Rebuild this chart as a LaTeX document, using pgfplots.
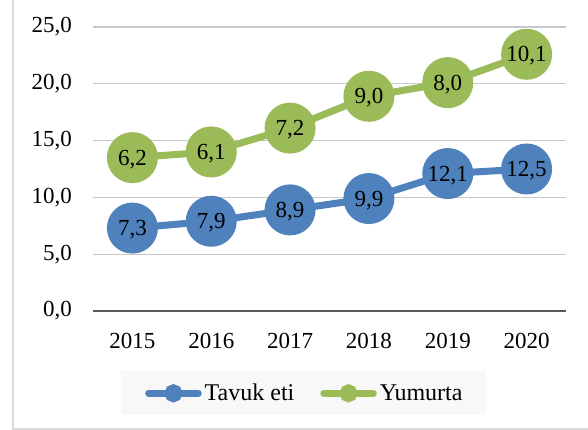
\documentclass[border=0pt]{standalone}
\usepackage{pgfplots}
\pgfplotsset{compat=1.18}
\usepackage{fontspec}
\setmainfont{Liberation Serif}
\definecolor{tblue}{HTML}{4F81BD}
\definecolor{tgreen}{HTML}{9BBB59}
\definecolor{gridgray}{HTML}{C8C8C8}
\definecolor{axisgray}{HTML}{595959}
\definecolor{framegray}{HTML}{D9D9D9}
\definecolor{legfill}{HTML}{F8F8F8}
\begin{document}
\begin{tikzpicture}[font=\fontsize{23}{27}\selectfont]
\useasboundingbox (-93pt,-119pt) rectangle (495pt,311pt);
\draw[framegray, line width=1.5pt] (-80pt,-118pt) rectangle (520pt,330pt);
\begin{axis}[
  at={(0pt,0pt)}, anchor=south west,
  scale only axis, width=473pt, height=284pt,
  xmin=-0.5, xmax=5.5, ymin=0, ymax=25,
  xtick={0,1,2,3,4,5},
  xticklabels={2015,2016,2017,2018,2019,2020},
  ytick={5,10,15,20,25},
  extra y ticks={0},
  extra y tick style={grid style={axisgray, line width=1.2pt}},
  ymajorgrids, grid style={gridgray, line width=1.2pt},
  axis line style={draw=none},
  major tick length=0pt,
  /pgf/number format/.cd, fixed, fixed zerofill, precision=1, use comma, assume math mode=true,
  /pgfplots/.cd,
  yticklabel style={anchor=east, inner sep=0pt, xshift=-21pt},
  xticklabel style={anchor=north, inner sep=0pt, yshift=-22pt},
  stack plots=y,
  clip=false,
  point meta=explicit,
  nodes near coords={\pgfmathprintnumber{\pgfplotspointmeta}},
  every node near coord/.append style={anchor=base, yshift=-7.5pt, text=black, inner sep=0pt},
  legend columns=2,
  legend style={at={(axis description cs:0.0592,-0.2113)}, anchor=north west,
    draw=none, fill=legfill, inner xsep=24pt, inner ysep=13pt,
    font=\fontsize{24}{28}\selectfont,
    nodes={inner sep=0pt}, column sep=3pt,
    /tikz/every even column/.append style={column sep=26pt}},
]
\addplot[tblue, line width=7pt, mark=*, mark size=22pt, mark options={draw=none, fill=tblue},
  legend image code/.code={\draw[tblue, line width=6.5pt, line cap=round] (3.5pt,0pt) -- (53.5pt,0pt); \fill[tblue] (28.5pt,0pt) circle (5.5pt);}]
  coordinates {(0,7.3) [7.3] (1,7.9) [7.9] (2,8.9) [8.9] (3,9.9) [9.9] (4,12.1) [12.1] (5,12.5) [12.5]};
\addlegendentry{Tavuk eti}
\addplot[tgreen, line width=7pt, mark=*, mark size=22pt, mark options={draw=none, fill=tgreen},
  legend image code/.code={\draw[tgreen, line width=6.5pt, line cap=round] (3.5pt,0pt) -- (53.5pt,0pt); \fill[tgreen] (28.5pt,0pt) circle (5.5pt);}]
  coordinates {(0,6.2) [6.2] (1,6.1) [6.1] (2,7.2) [7.2] (3,9.0) [9.0] (4,8.0) [8.0] (5,10.1) [10.1]};
\addlegendentry{Yumurta}
\end{axis}
\end{tikzpicture}
\end{document}
